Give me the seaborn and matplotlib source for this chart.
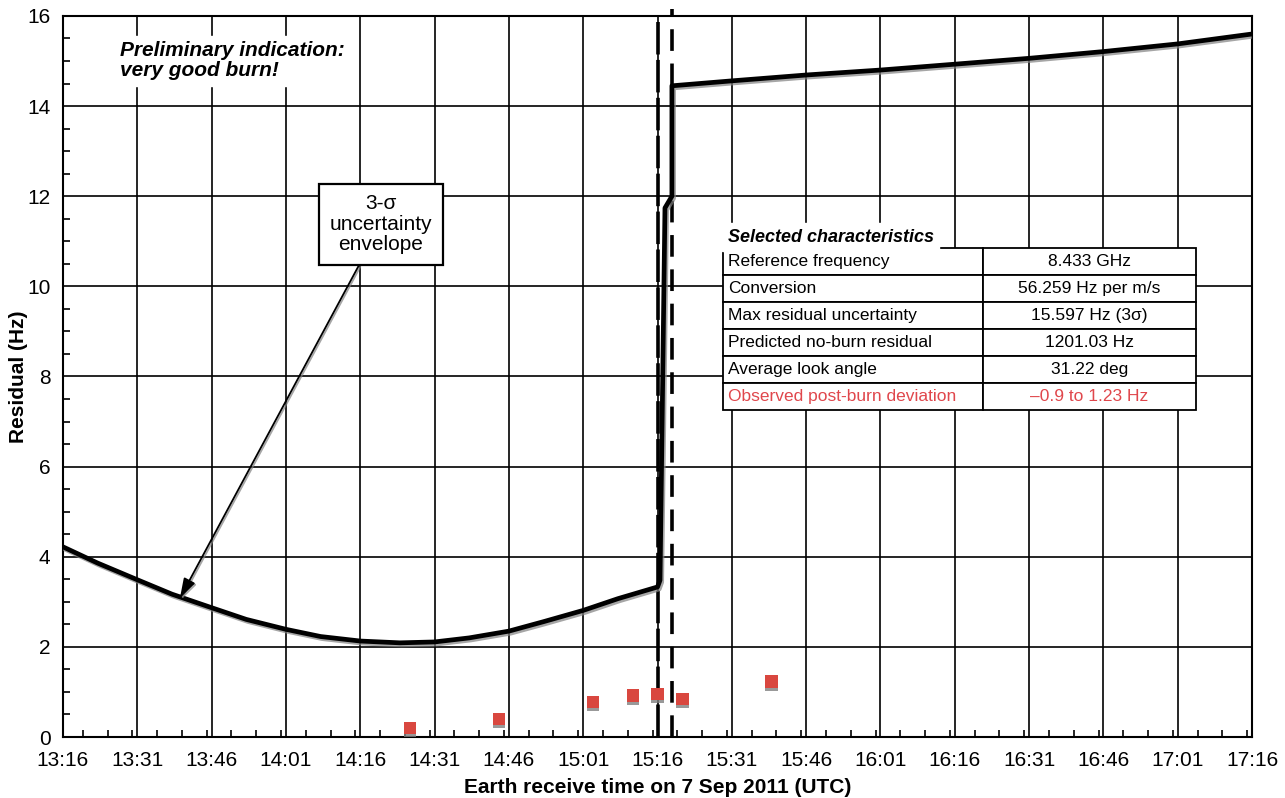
import numpy as np
import pandas as pd
import matplotlib
matplotlib.use('Agg')
import matplotlib.pyplot as plt
import matplotlib.patheffects as pe
from matplotlib.ticker import FixedLocator, MultipleLocator
import seaborn as sns

# residual envelope (3-sigma)
env_time = ['13:16', '13:23', '13:31', '13:38', '13:46', '13:53', '14:01', '14:08',
            '14:16', '14:24', '14:31', '14:38', '14:46', '14:53', '15:01', '15:08',
            '15:16', '15:16.5', '15:17.5', '15:18.9', '15:18.9', '15:31', '15:46',
            '16:01', '16:16', '16:31', '16:46', '17:01', '17:16']
env_hz = [4.22, 3.86, 3.49, 3.17, 2.87, 2.61, 2.39, 2.23,
          2.13, 2.09, 2.11, 2.20, 2.35, 2.56, 2.81, 3.07,
          3.33, 3.48, 11.74, 12.0, 14.45, 14.56, 14.69,
          14.80, 14.93, 15.06, 15.21, 15.38, 15.60]

# observed post-burn deviation points
obs_time = ['14:26', '14:44', '15:03', '15:11', '15:16', '15:21', '15:39']
obs_hz = [0.20, 0.40, 0.78, 0.92, 0.95, 0.84, 1.23]

burn_start = '15:16'
burn_end = '15:19'

tick_labels = ['13:16', '13:31', '13:46', '14:01', '14:16', '14:31', '14:46', '15:01',
               '15:16', '15:31', '15:46', '16:01', '16:16', '16:31', '16:46', '17:01', '17:16']

table_rows = ['Reference frequency', 'Conversion', 'Max residual uncertainty',
              'Predicted no-burn residual', 'Average look angle', 'Observed post-burn deviation']
table_vals = ['8.433 GHz', '56.259 Hz per m/s', '15.597 Hz (3\u03c3)',
              '1201.03 Hz', '31.22 deg', '\u20130.9 to 1.23 Hz']


def to_min(s):
    h, m = s.split(':')
    return int(h) * 60 + float(m)


df_env = pd.DataFrame({'t': [to_min(s) for s in env_time], 'hz': env_hz})
df_obs = pd.DataFrame({'t': [to_min(s) for s in obs_time], 'hz': obs_hz})
ticks = [to_min(s) for s in tick_labels]

sns.set_style('white')
plt.rcParams['font.family'] = ['Liberation Sans', 'DejaVu Sans']
plt.rcParams['text.color'] = 'black'
plt.rcParams['axes.labelcolor'] = 'black'
plt.rcParams['xtick.color'] = 'black'
plt.rcParams['ytick.color'] = 'black'

fig = plt.figure(figsize=(12.85, 7.98), dpi=100)
ax = fig.add_axes([0.049, 0.0764, 0.9254, 0.9036])

red = '#d9473f'

# burn window markers
ax.plot([to_min(burn_start)] * 2, [0, 16], color='black', lw=2.6,
        dashes=(9, 1.5), zorder=3)
ax.plot([to_min(burn_end)] * 2, [0, 16.15], color='black', lw=2.6,
        dashes=(6, 3.5), zorder=3, clip_on=False)

sns.lineplot(data=df_env, x='t', y='hz', sort=False, estimator=None, ax=ax,
             color='black', lw=3.4, zorder=4,
             path_effects=[pe.SimpleLineShadow(offset=(1.2, -1.5), shadow_color='gray', alpha=0.7),
                           pe.Normal()])

sns.scatterplot(data=df_obs, x='t', y='hz', ax=ax, marker='s', s=80, color=red,
                edgecolor='none', zorder=5,
                path_effects=[pe.SimplePatchShadow(offset=(0, -2), shadow_rgbFace='gray', alpha=0.8),
                              pe.Normal()])

ax.set_xlim(ticks[0], ticks[-1])
ax.set_ylim(0, 16)
ax.xaxis.set_major_locator(FixedLocator(ticks))
ax.set_xticklabels(tick_labels)
ax.xaxis.set_minor_locator(MultipleLocator(5))
ax.yaxis.set_major_locator(MultipleLocator(2))
ax.yaxis.set_minor_locator(MultipleLocator(0.5))
ax.tick_params(axis='both', which='major', length=0, labelsize=15)
ax.tick_params(axis='x', which='major', pad=10)
ax.tick_params(axis='y', which='major', pad=9)
ax.tick_params(axis='x', which='minor', direction='in', length=5, width=1.2, bottom=True)
ax.tick_params(axis='y', which='minor', direction='in', length=5, width=1.2, left=True)
ax.grid(True, which='major', color='black', lw=1.2)
for sp in ax.spines.values():
    sp.set_linewidth(1.5)
    sp.set_color('black')

ax.set_xlabel('Earth receive time on 7 Sep 2011 (UTC)', fontsize=15, fontweight='bold')
ax.set_ylabel('Residual (Hz)', fontsize=15, fontweight='bold')
ax.xaxis.set_label_coords(0.5, -0.057)
ax.yaxis.set_label_coords(-0.029, 0.5)

ax.text(0.048, 0.965, 'Preliminary indication:\nvery good burn!', transform=ax.transAxes,
        fontsize=15, fontweight='bold', fontstyle='italic', va='top', ha='left',
        linespacing=1.05, backgroundcolor='white', zorder=6)

ax.annotate('3-\u03c3\nuncertainty\nenvelope', xy=(to_min('13:39.6'), 3.08),
            xytext=(to_min('14:20.2'), 11.38), ha='center', va='center', fontsize=15,
            linespacing=1.1, zorder=7,
            bbox=dict(boxstyle='square,pad=0.5', fc='white', ec='black', lw=1.6),
            arrowprops=dict(arrowstyle='-|>,head_length=0.8,head_width=0.25', color='black',
                            lw=1.3, shrinkA=0, shrinkB=0,
                            path_effects=[pe.SimpleLineShadow(offset=(1, -1), shadow_color='gray', alpha=0.7),
                                          pe.Normal()]))

# characteristics table
x0 = (723 - 63) / 1189
x1 = (1196 - 63) / 1189
y0 = (737 - 410) / 721
y1 = (737 - 248) / 721
tab = ax.table(cellText=[[r, v] for r, v in zip(table_rows, table_vals)],
               colWidths=[260 / 473, 213 / 473], bbox=[x0, y0, x1 - x0, y1 - y0],
               zorder=8)
tab.auto_set_font_size(False)
tab.set_fontsize(12.5)
for (r, c), cell in tab.get_celld().items():
    cell.set_edgecolor('black')
    cell.set_linewidth(1.3)
    cell.set_facecolor('white')
    txt = cell.get_text()
    txt.set_color('black')
    if c == 0:
        txt.set_ha('left')
        cell.PAD = 0.02
    else:
        txt.set_ha('center')
    if r == len(table_rows) - 1:
        txt.set_color('#e0474c')

ax.text(x0 + 0.004, y1 + 0.003, 'Selected characteristics', transform=ax.transAxes,
        fontsize=13, fontweight='bold', fontstyle='italic', va='bottom', ha='left',
        backgroundcolor='white', zorder=8)

fig.savefig('out.png', dpi=100)
